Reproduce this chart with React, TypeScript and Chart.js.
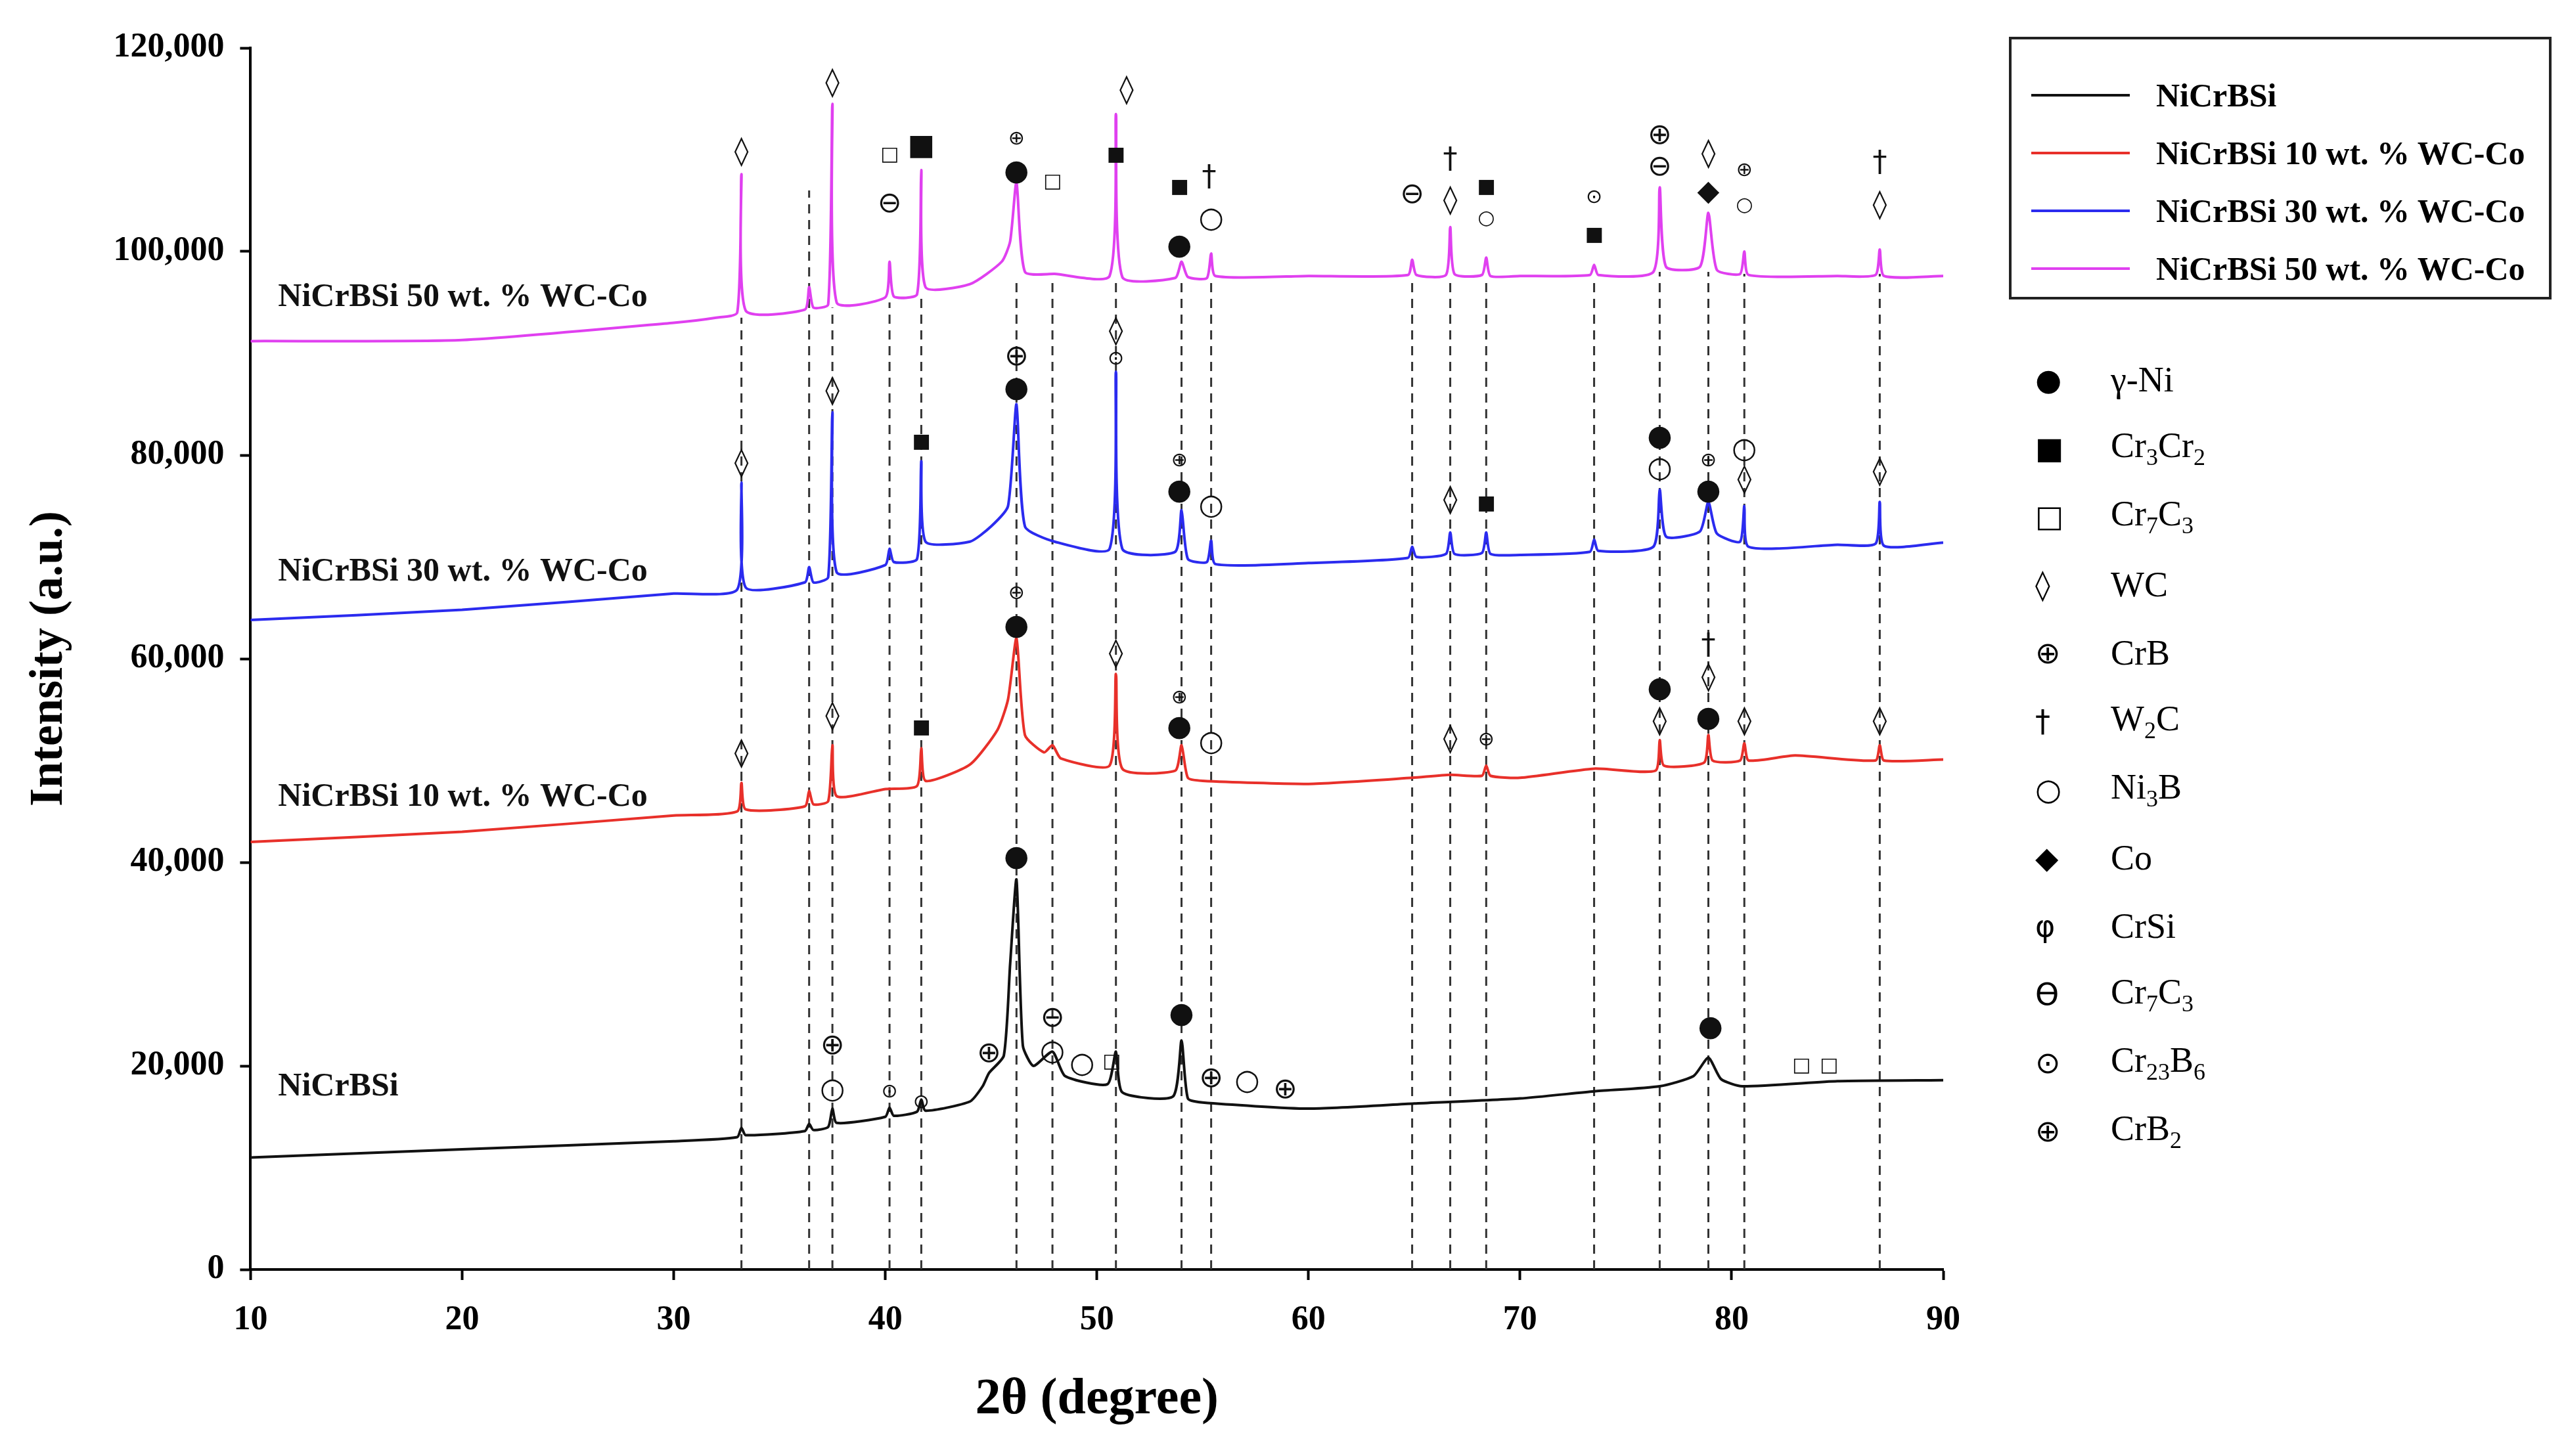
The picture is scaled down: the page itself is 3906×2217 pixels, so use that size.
import React, { useEffect, useRef } from "react";
import { Chart, registerables } from "chart.js";
Chart.register(...registerables);

const seriesNames = ["NiCrBSi", "NiCrBSi 10 wt. % WC-Co", "NiCrBSi 30 wt. % WC-Co", "NiCrBSi 50 wt. % WC-Co"];
const seriesColors = ["#111111", "#e8302a", "#2b2bef", "#e040f0"];

const blackX = [10,20,30,33.0,33.2,33.4,36.2,36.4,36.6,37.3,37.5,37.7,40,40.2,40.4,41.5,41.7,41.9,44,44.6,44.9,45.6,45.9,46.2,46.5,47,47.9,48.5,50.5,50.9,51.2,53.6,54.0,54.3,55,60,65,70,73.5,76.6,78.2,78.9,79.5,80.5,85,90];
const blackY = [11000,11800,12600,13000,13900,13200,13600,14300,13700,14000,15800,14400,15000,15900,15100,15500,16700,15600,16500,18000,19300,21000,30000,38300,22000,20000,21400,19000,18200,21400,17400,17000,22500,16800,16400,15800,16300,16800,17500,18000,19000,20800,18700,18000,18500,18600];
const redX = [10,20,30,33.0,33.2,33.4,36.2,36.4,36.6,37.3,37.5,37.7,40,41.5,41.7,41.9,44,45.3,45.8,46.2,46.6,47.5,47.9,48.3,50.6,50.9,51.2,53.7,54.0,54.3,55,60,64.9,66.7,68.2,68.4,68.6,70,73.5,76.4,76.6,76.8,78.7,78.9,79.1,80.4,80.6,80.8,83,86.8,87.0,87.2,90];
const redY = [42000,43000,44600,45000,47800,45200,45500,47000,45700,46000,51500,46500,47200,47500,51200,48000,49600,53000,56000,62000,52500,50800,51500,50200,49500,58500,49200,49000,51500,48300,48000,47700,48300,48600,48500,49500,48500,48300,49200,49000,52000,49500,49800,52500,50000,50000,51700,50000,50500,50000,51500,50000,50100];
const blueX = [10,20,30,33.0,33.2,33.4,36.2,36.4,36.6,37.3,37.5,37.7,40.0,40.2,40.4,41.5,41.7,41.9,44,45,45.8,46.2,46.6,48,50.6,50.9,51.2,53.7,54.0,54.3,55.2,55.4,55.6,60,64.7,64.9,65.1,66.5,66.7,66.9,68.2,68.4,68.6,70,73.3,73.5,73.7,76.3,76.6,76.9,78.5,78.9,79.3,80.4,80.6,80.8,85,86.8,87.0,87.2,90];
const blueY = [63800,64800,66400,66800,77300,67000,67500,69000,67500,68000,84200,68500,69200,70800,69500,69800,79400,71500,71500,73000,75000,85000,73000,71500,70800,88200,70800,70500,74600,69800,69500,71600,69300,69400,69900,71000,70000,70300,72400,70300,70400,72400,70300,70200,70500,71700,70600,71000,76600,72000,72500,75400,72300,71500,75000,71000,71200,71300,75400,71100,71400];
const magentaX = [10,20,30,32.0,33.0,33.2,33.4,36.2,36.4,36.6,37.3,37.5,37.7,40.0,40.2,40.4,41.5,41.7,41.9,44,45.5,45.9,46.2,46.6,48,50.6,50.9,51.2,53.7,54.0,54.3,55.2,55.4,55.6,60,64.7,64.9,65.1,66.5,66.7,66.9,68.2,68.4,68.6,70,73.3,73.5,73.7,76.3,76.6,76.9,78.5,78.9,79.3,80.4,80.6,80.8,85,86.8,87.0,87.2,90];
const magentaY = [91200,91300,93000,93500,94000,107600,94200,94300,96500,94500,94800,114500,95000,95500,99000,95600,95800,108000,96500,96800,99000,101000,106800,98000,97800,97600,113500,97500,97400,99000,97500,97400,99800,97600,97600,97700,99200,97700,97700,102400,97800,97700,99400,97600,97600,97700,98700,97700,98000,106300,98500,98500,103800,98200,97800,100000,97700,97600,97700,100200,97600,97600];

const dashX = [33.2,36.4,37.5,40.2,41.7,46.2,47.9,50.9,54.0,55.4,64.9,66.7,68.4,73.5,76.6,78.9,80.6,87.0];
const dashTop = [93500,106000,94500,95000,95500,97000,97500,97500,97500,97500,97500,97500,97500,97500,98000,98000,97800,97800];

const seriesLabelY = [17900, 46400, 68500, 95500];
const seriesLabelX = 11.3;

// [x, y, symbol, small]
const markers: [number, number, string, boolean][] = [
  [33.2,109700,"◊",false],[37.5,116500,"◊",false],[40.2,109500,"□",true],[41.7,110300,"■",false],
  [46.2,111000,"⊕",true],[46.2,107800,"●",false],[47.9,106800,"□",true],[50.9,109500,"■",true],
  [51.4,115800,"◊",false],[53.9,106300,"■",true],[55.3,107200,"†",false],[53.9,100500,"●",false],
  [55.4,103100,"○",false],[40.2,104600,"⊖",false],[64.9,105500,"⊖",false],[66.7,108900,"†",false],
  [66.7,104900,"◊",false],[68.4,106300,"■",true],[68.4,103200,"○",true],[73.5,105300,"⊙",true],
  [73.5,101600,"■",true],[76.6,111300,"⊕",false],[76.6,108200,"⊖",false],[78.9,109500,"◊",false],
  [78.9,105800,"◆",false],[80.6,107900,"⊕",true],[80.6,104500,"○",true],[87.0,108600,"†",false],
  [87.0,104500,"◊",false],
  [33.2,79100,"◊",false],[37.5,86200,"◊",false],[41.7,81300,"■",true],[46.2,89600,"⊕",false],
  [46.2,86500,"●",false],[50.9,92100,"◊",false],[50.9,89400,"⊙",true],[53.9,79400,"⊕",true],
  [53.9,76400,"●",false],[55.4,74900,"○",false],[66.7,75500,"◊",false],[68.4,75200,"■",true],
  [76.6,81700,"●",false],[76.6,78600,"○",false],[78.9,79400,"⊕",true],[78.9,76400,"●",false],
  [80.6,80500,"○",false],[80.6,77500,"◊",false],[87.0,78300,"◊",false],
  [33.2,50600,"◊",false],[37.5,54300,"◊",false],[41.7,53200,"■",true],[46.2,66400,"⊕",true],
  [46.2,63100,"●",false],[50.9,60400,"◊",false],[53.9,56100,"⊕",true],[53.9,53200,"●",false],
  [55.4,51700,"○",false],[66.7,52000,"◊",false],[68.4,52000,"⊕",true],[76.6,57000,"●",false],
  [76.6,53800,"◊",false],[78.9,61200,"†",false],[78.9,58100,"◊",false],[78.9,54100,"●",false],
  [80.6,53800,"◊",false],[87.0,53800,"◊",false],
  [37.5,21900,"⊕",false],[37.5,17600,"○",false],[40.2,17400,"⊙",true],[41.7,16400,"⊙",true],
  [44.9,21100,"⊕",false],[46.2,40400,"●",false],[47.9,21300,"○",false],[47.9,24600,"⊖",false],
  [49.3,20100,"○",false],[50.7,20400,"□",true],[54.0,25000,"●",false],[55.4,18700,"⊕",false],
  [57.1,18400,"○",false],[58.9,17600,"⊕",false],[79.0,23700,"●",false],[83.3,20000,"□",true],
  [84.6,20000,"□",true],
];

const xTicks = [10,20,30,40,50,60,70,80,90];
const yTicks = [0,20000,40000,60000,80000,100000,120000];

const phaseSymbols = ["●","■","□","◊","⊕","†","○","◆","φ","ϴ","⊙","⊕"];
const phaseNames: [string, string][][] = [
  [["γ-Ni",""]], [["Cr","3"],["Cr","2"]], [["Cr","7"],["C","3"]], [["WC",""]], [["CrB",""]],
  [["W","2"],["C",""]], [["Ni","3"],["B",""]], [["Co",""]], [["CrSi",""]], [["Cr","7"],["C","3"]],
  [["Cr","23"],["B","6"]], [["CrB","2"]],
];

const SERIF = "'Liberation Serif', 'Times New Roman', serif";

const overlay = {
  id: "overlay",
  beforeDatasetsDraw(chart: any) {
    const { ctx, scales } = chart;
    const xs = scales.x, ys = scales.y;
    ctx.save();
    ctx.strokeStyle = "#333";
    ctx.lineWidth = 3;
    ctx.setLineDash([14, 10]);
    dashX.forEach((x, i) => {
      ctx.beginPath();
      ctx.moveTo(xs.getPixelForValue(x), ys.getPixelForValue(0));
      ctx.lineTo(xs.getPixelForValue(x), ys.getPixelForValue(dashTop[i]));
      ctx.stroke();
    });
    ctx.restore();
  },
  afterDatasetsDraw(chart: any) {
    const { ctx, scales } = chart;
    const xs = scales.x, ys = scales.y;
    ctx.save();
    ctx.fillStyle = "#111";
    ctx.textAlign = "center";
    ctx.textBaseline = "middle";
    markers.forEach(([x, y, s, small]) => {
      ctx.font = `${small ? 30 : 44}px 'DejaVu Sans'`;
      ctx.fillText(s, xs.getPixelForValue(x), ys.getPixelForValue(y));
    });
    ctx.textAlign = "left";
    ctx.font = `bold 50px ${SERIF}`;
    seriesNames.forEach((n, i) => {
      ctx.fillText(n, xs.getPixelForValue(seriesLabelX), ys.getPixelForValue(seriesLabelY[i]));
    });
    ctx.restore();
  },
};

export default function App() {
  const ref = useRef<HTMLCanvasElement>(null);
  useEffect(() => {
    const xsArr = [blackX, redX, blueX, magentaX];
    const ysArr = [blackY, redY, blueY, magentaY];
    const chart = new Chart(ref.current!, {
      type: "line",
      data: {
        datasets: seriesNames.map((n, i) => ({
          label: n,
          data: xsArr[i].map((x, j) => ({ x, y: ysArr[i][j] })),
          borderColor: seriesColors[i],
          borderWidth: 4,
          pointRadius: 0,
          tension: 0.2,
        })),
      },
      options: {
        animation: false,
        responsive: false,
        layout: { padding: { top: 65, right: 940, bottom: 25, left: 20 } },
        plugins: { legend: { display: false }, tooltip: { enabled: false } },
        scales: {
          x: {
            type: "linear", min: 10, max: 90,
            afterBuildTicks: (a: any) => { a.ticks = xTicks.map((v) => ({ value: v })); },
            grid: { drawOnChartArea: false, tickLength: 16, tickWidth: 4, color: "#000" },
            border: { color: "#000", width: 4 },
            ticks: { color: "#000", padding: 30, font: { family: SERIF, size: 52, weight: "bold" } },
            title: { display: true, text: "2θ (degree)", color: "#000", padding: { top: 14 }, font: { family: SERIF, size: 78, weight: "bold" } },
          },
          y: {
            min: 0, max: 120000,
            afterBuildTicks: (a: any) => { a.ticks = yTicks.map((v) => ({ value: v })); },
            grid: { drawOnChartArea: false, tickLength: 16, tickWidth: 4, color: "#000" },
            border: { color: "#000", width: 4 },
            ticks: { color: "#000", padding: 24, font: { family: SERIF, size: 52, weight: "bold" }, callback: (v: any) => Number(v).toLocaleString("en-US") },
            title: { display: true, text: "Intensity (a.u.)", color: "#000", padding: { bottom: 30 }, font: { family: SERIF, size: 72, weight: "bold" } },
          },
        },
      },
      plugins: [overlay],
    });
    return () => chart.destroy();
  }, []);

  return (
    <div style={{ position: "relative", width: 3890, height: 2200, background: "#fff" }}>
      <canvas ref={ref} width={3890} height={2200} style={{ display: "block" }} />
      <div style={{ position: "absolute", left: 3050, top: 48, width: 826, height: 400, border: "4px solid #222", boxSizing: "border-box", fontFamily: SERIF, fontWeight: "bold", fontSize: 50 }}>
        {seriesNames.map((n, i) => (
          <div key={n} style={{ position: "absolute", left: 30, top: 50 + i * 88, display: "flex", alignItems: "center", height: 70 }}>
            <div style={{ width: 150, height: 4, background: seriesColors[i], marginRight: 40 }} />
            <span>{n}</span>
          </div>
        ))}
      </div>
      {phaseSymbols.map((s, i) => (
        <div key={i} style={{ position: "absolute", left: 3090, top: 525 + i * 104, height: 90, display: "flex", alignItems: "center", fontFamily: SERIF, fontSize: 54 }}>
          <span style={{ width: 115, display: "inline-block", fontFamily: "'DejaVu Sans'", fontSize: 46 }}>{s}</span>
          <span>
            {phaseNames[i].map(([a, b], k) => (
              <React.Fragment key={k}>{a}{b && <sub style={{ fontSize: 36 }}>{b}</sub>}</React.Fragment>
            ))}
          </span>
        </div>
      ))}
    </div>
  );
}
